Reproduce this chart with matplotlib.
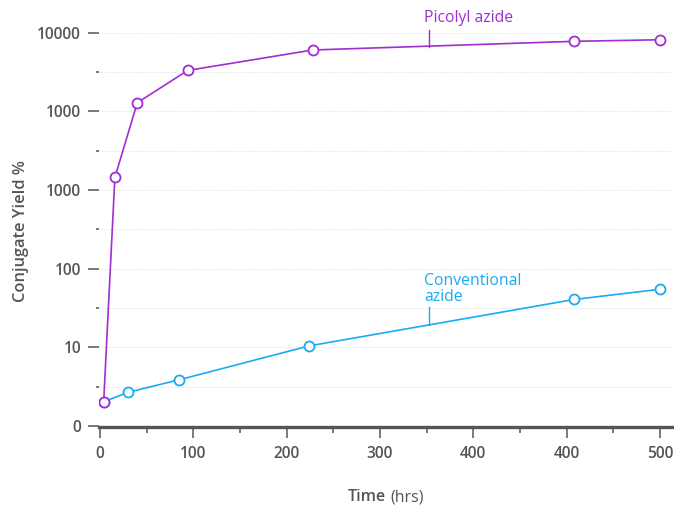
import matplotlib.pyplot as plt
from matplotlib.ticker import FixedLocator, MultipleLocator

plt.rcParams['font.family'] = ['Open Sans', 'DejaVu Sans']

# values in axis units (the chart uses evenly spaced, oddly labelled ticks)
x_ticks = [0, 100, 200, 300, 400, 500, 600]
x_labels = ['0', '100', '200', '300', '400', '400', '500']
y_ticks = [0, 1, 2, 3, 4, 5]
y_labels = ['0', '10', '100', '1000', '1000', '10000']

picolyl_x = [4, 16, 40, 94, 228, 508, 600]
picolyl_y = [0.31, 3.16, 4.11, 4.52, 4.78, 4.89, 4.91]
conv_x = [4, 30, 85, 224, 508, 600]
conv_y = [0.31, 0.43, 0.59, 1.02, 1.61, 1.74]

purple = '#A22DD3'
blue = '#1AABF0'
grey = '#555555'

fig = plt.figure(figsize=(6.74, 5.05), dpi=100)
ax = fig.add_axes([0.1469, 0.1545, 0.8531, 0.826])

ax.plot(conv_x, conv_y, color=blue, lw=1.2, marker='o', ms=7.2,
        mfc='white', mec=blue, mew=1.3, zorder=3)
ax.plot(picolyl_x, picolyl_y, color=purple, lw=1.2, marker='o', ms=7.2,
        mfc='white', mec=purple, mew=1.3, zorder=4)

# labels with leader lines
ax.text(347, 5.08, 'Picolyl azide', color=purple, fontsize=11.3, va='bottom')
ax.plot([352.5, 352.5], [4.82, 5.04], color=purple, lw=1.0)
ax.text(347, 1.54, 'Conventional\nazide', color=blue, fontsize=11.3,
        va='bottom', linespacing=1.0)
ax.plot([352.5, 352.5], [1.29, 1.51], color=blue, lw=1.0)

ax.set_xlim(-1, 615)
ax.set_ylim(-0.01, 5.29)

ax.xaxis.set_major_locator(FixedLocator(x_ticks))
ax.set_xticklabels(x_labels)
ax.xaxis.set_minor_locator(MultipleLocator(50))
ax.yaxis.set_major_locator(FixedLocator(y_ticks))
ax.set_yticklabels(y_labels)
ax.yaxis.set_minor_locator(MultipleLocator(0.5))

ax.tick_params(axis='x', which='major', length=8, width=1.1, color=grey,
               pad=6, labelsize=11.2, labelcolor=grey)
ax.tick_params(axis='x', which='minor', length=4, width=1.1, color=grey)
ax.tick_params(axis='y', which='major', length=8, width=1.1, color=grey,
               pad=5, labelsize=11.2, labelcolor=grey)
ax.tick_params(axis='y', which='minor', length=2.5, width=1.1, color=grey)
for lab in ax.get_xticklabels() + ax.get_yticklabels():
    lab.set_fontweight('semibold')
ax.yaxis.get_major_ticks()[0].tick1line.set_color('#dddddd')

ax.yaxis.grid(True, which='both', linestyle=(0, (1, 1.5)), color='#dddddd', lw=0.7)
ax.set_axisbelow(True)

for s in ['top', 'right', 'left']:
    ax.spines[s].set_visible(False)
ax.spines['bottom'].set_color(grey)
ax.spines['bottom'].set_linewidth(2.4)

ax.set_ylabel('Conjugate Yield %', fontsize=11.8, color=grey, fontweight='semibold')
ax.yaxis.set_label_coords(-0.121, 0.47)

fig.text(0.573, 0.0, 'Time', ha='right', va='bottom', fontsize=11.5, color=grey,
         fontweight='semibold')
fig.text(0.579, 0.0, '(hrs)', ha='left', va='bottom', fontsize=11.5, color=grey)

fig.savefig('out.png', dpi=100)
